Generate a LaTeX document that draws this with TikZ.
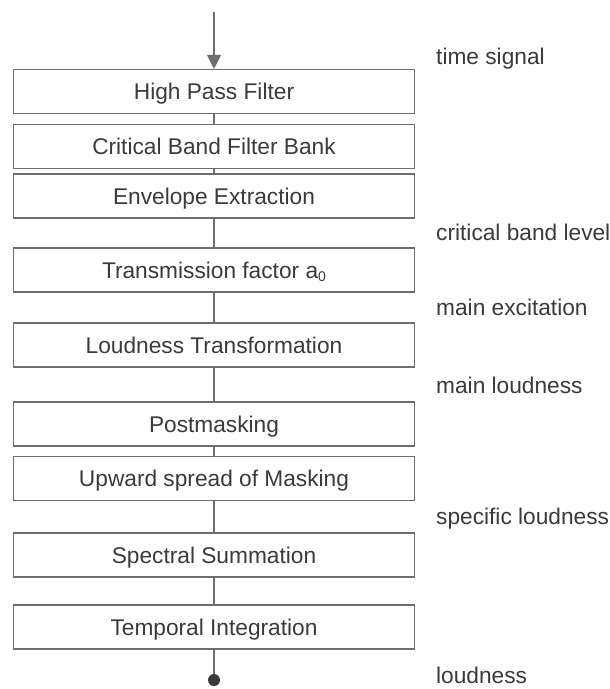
\documentclass[tikz,border=0pt]{standalone}
\usepackage{fontspec}
\setmainfont{Liberation Sans}
\usetikzlibrary{arrows.meta}
\definecolor{ink}{HTML}{3A3A3A}
\definecolor{rule}{HTML}{6E6E6E}
\begin{document}
\begin{tikzpicture}[x=1pt,y=-1pt,
  stage/.style={draw=rule, line width=1.1pt, minimum width=401pt,
    minimum height=44pt, inner sep=0pt, text=ink,
    font=\fontsize{22.7}{27}\selectfont, text height=16.3pt, text depth=0pt},
  flow/.style={draw=rule, line width=1.1pt},
  tag/.style={anchor=base west, inner sep=0pt, text=ink,
    font=\fontsize{22.7}{27}\selectfont}]
\useasboundingbox (0,0) rectangle (610,689);

% processing stages
\node[stage] (hp)  at (214,91.5) {High Pass Filter};
\node[stage] (cb)  at (214,146.5) {Critical Band Filter Bank};
\node[stage] (env) at (214,196) {Envelope Extraction};
\node[stage] (tf)  at (214,270) {Transmission factor a\raisebox{-0.25ex}{\fontsize{14}{14}\selectfont 0}};
\node[stage] (lt)  at (214,345) {Loudness Transformation};
\node[stage] (pm)  at (214,424) {Postmasking};
\node[stage] (us)  at (214,478.5) {Upward spread of Masking};
\node[stage] (ss)  at (214,555) {Spectral Summation};
\node[stage] (ti)  at (214,627) {Temporal Integration};

% input and output
\coordinate (in) at (214,12);
\node[circle, fill=ink, minimum size=12pt, inner sep=0pt] (out) at (214,680) {};

% connectors
\draw[flow, -{Triangle[length=14pt,width=14pt]}, fill=ink] (in) -- (hp.north);
\draw[flow] (hp.south) -- (cb.north);
\draw[flow] (cb.south) -- (env.north);
\draw[flow] (env.south) -- (tf.north);
\draw[flow] (tf.south) -- (lt.north);
\draw[flow] (lt.south) -- (pm.north);
\draw[flow] (pm.south) -- (us.north);
\draw[flow] (us.south) -- (ss.north);
\draw[flow] (ss.south) -- (ti.north);
\draw[flow] (ti.south) -- (out);

% signal names
\node[tag] (l1) at (436,64)  {time signal};
\node[tag] (l2) at (436,240) {critical band level};
\node[tag] (l3) at (436,315) {main excitation};
\node[tag] (l4) at (436,393) {main loudness};
\node[tag] (l5) at (436,524) {specific loudness};
\node[tag] (l6) at (436,683) {loudness};
\end{tikzpicture}
\end{document}
